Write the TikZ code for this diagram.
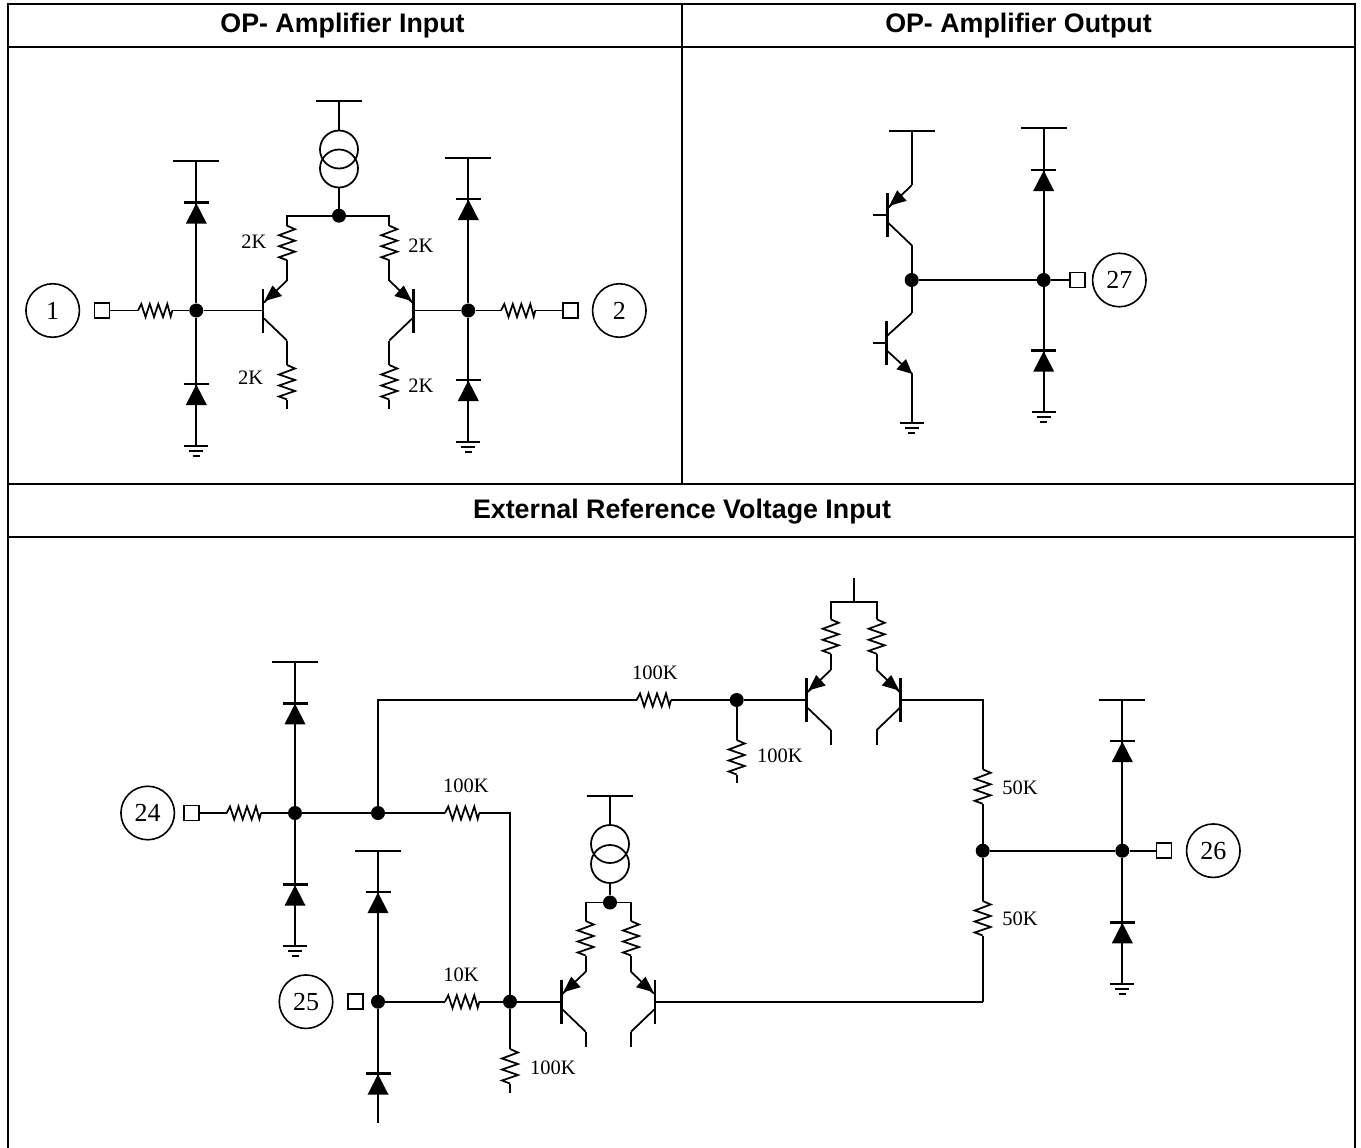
\documentclass[tikz,border=0pt]{standalone}
\usepackage{fontspec}
\setmainfont{Liberation Serif}
\newfontfamily\headfont{Liberation Sans}
\tikzset{
  wire/.style={line width=1.75pt,line cap=butt,line join=miter},
  gridline/.style={line width=2.2pt},
  heavybar/.style={line width=2.8pt},
  dot/.style={circle,fill=black,draw=none,minimum size=14pt,inner sep=0pt},
  term/.style={rectangle,draw,line width=1.6pt,fill=white,minimum size=15pt,inner sep=0pt},
  pin/.style={circle,draw,line width=1.6pt,minimum size=53.5pt,inner sep=0pt,font=\fontsize{26}{30}\selectfont},
  val/.style={inner sep=0pt,font=\fontsize{20.5}{24}\selectfont},
  head/.style={inner sep=0pt,font=\headfont\bfseries\fontsize{26.8}{30}\selectfont},
  ring/.style={circle,draw,line width=1.75pt,minimum size=38pt,inner sep=0pt},
  rail/.pic={\draw[wire] (-23,0) -- (23,0); \coordinate (-c) at (0,0);},
  gnd/.pic={\draw[wire] (-12,0) -- (12,0) (-7,5) -- (7,5); \draw[wire,line width=2pt] (-3.5,10) -- (3.5,10); \coordinate (-c) at (0,0);},
  diodeup/.pic={
    \draw[line width=2.2pt] (0,-6) -- (0,0);
    \draw[heavybar] (-12.5,0) -- (12.5,0);
    \fill (0,0.5) -- (10.5,21) -- (-10.5,21) -- cycle;
  },
  hres/.pic={
    \draw[wire,line join=miter] (0,0) -- (3.3,-6.5) -- (7.5,6.5) -- (11.8,-6.5) -- (16,6.5) -- (20.3,-6.5) -- (25,6.5) -- (29.3,-6.5) -- (32.7,6) -- (34.3,0);
    \coordinate (-a) at (0,0); \coordinate (-b) at (34.3,0);
  },
  vres/.pic={
    \draw[wire,line join=miter] (0,0) -- (8,3.5) -- (-8,9.5) -- (8,15) -- (-8,20.5) -- (8,26) -- (-8,31.5) -- (0,34.5);
    \coordinate (-a) at (0,0); \coordinate (-b) at (0,34.5);
  },
  pnpq/.pic={
    \draw[heavybar] (0,-22) -- (0,22);
    \draw[wire] (1,-8) -- (24,-30) (1,8) -- (24,30);
    \fill (1.5,-9.5) -- (9.5,-25) -- (19,-14.5) -- cycle;
    \coordinate (-b) at (0,0); \coordinate (-e) at (24,-30); \coordinate (-c) at (24,30);
  },
  npnq/.pic={
    \draw[heavybar] (0,-22) -- (0,22);
    \draw[wire] (1,8) -- (25,30) (1,-8) -- (25,-30);
    \fill (25.5,30.5) -- (19.3,15.7) -- (9.6,26) -- cycle;
    \coordinate (-b) at (0,0); \coordinate (-e) at (25,30); \coordinate (-c) at (25,-30);
  },
}
\begin{document}
\begin{tikzpicture}[x=1pt,y=-1pt]
\useasboundingbox (0,0) rectangle (1361,1148);
\fill[white] (0,0) rectangle (1361,1148);
% table
\draw[gridline] (7.7,1148) -- (7.7,4) -- (1355,4) -- (1355,1148);
\draw[gridline] (7.7,47) -- (1355,47) (7.7,484) -- (1355,484) (7.7,536.7) -- (1355,536.7);
\draw[gridline] (682,4) -- (682,484);
\node[head] (h1) at (342.5,26) {OP- Amplifier Input};
\node[head] (h2) at (1018.5,26) {OP- Amplifier Output};
\node[head] (h3) at (682,511.5) {External Reference Voltage Input};

% ---------- OP input ----------
\node[pin] (p1) at (52.7,310.5) {1};
\node[term] (t1) at (102,310.5) {};
\pic (r1) at (138,310.5) {hres};
\node[dot] (j1) at (196.3,310.5) {};
\pic (ra) at (196.3,161) {rail};
\pic at (196.3,202.7) {diodeup};
\pic at (196.3,384) {diodeup};
\pic (ga) at (196.3,445.7) {gnd};
\draw[wire] (t1) -- (r1-a) (r1-b) -- (j1);
\draw[wire] (ra-c) -- (j1) -- (ga-c);
\pic (q1) at (263,310.5) {pnpq};
\draw[wire] (j1) -- (q1-b);
\node[dot] (j0) at (339,215.7) {};
\pic (rs) at (339,100.7) {rail};
\node[ring] (s1) at (339,149.5) {};
\node[ring] (s2) at (339,168.5) {};
\draw[wire] (rs-c) -- (s1.north) (s2.south) -- (j0);
\pic (r2) at (287,225.7) {vres};
\pic (r3) at (287,365) {vres};
\coordinate (e3) at (287,409);
\draw[wire] (j0) -| (r2-a) (r2-b) -- (q1-e) (q1-c) -- (r3-a) (r3-b) -- (e3);
\pic[xscale=-1] (q2) at (413.3,310.5) {pnpq};
\pic (r4) at (389.3,225.7) {vres};
\pic (r5) at (389.3,365) {vres};
\coordinate (e5) at (389.3,409);
\draw[wire] (j0) -| (r4-a) (r4-b) -- (q2-e) (q2-c) -- (r5-a) (r5-b) -- (e5);
\node[dot] (j2) at (468.3,310.5) {};
\pic (rb) at (468.3,157.7) {rail};
\pic at (468.3,199) {diodeup};
\pic at (468.3,380) {diodeup};
\pic (gb) at (468.3,441.7) {gnd};
\draw[wire] (rb-c) -- (j2) -- (gb-c);
\draw[wire] (q2-b) -- (j2);
\pic (r6) at (501,310.5) {hres};
\node[term] (t2) at (570.7,310.5) {};
\node[pin] (p2) at (619.3,310.5) {2};
\draw[wire] (j2) -- (r6-a) (r6-b) -- (t2);
\node[val] at (254,242) {2K};
\node[val] at (250.7,378) {2K};
\node[val] at (421,246) {2K};
\node[val] at (421,386) {2K};

% ---------- OP output ----------
\pic (rc) at (911.7,131) {rail};
\pic (q3) at (887.7,215.3) {pnpq};
\coordinate (s3) at (873,215.3);
\draw[wire] (s3) -- (q3-b);
\node[dot] (j3) at (911.7,280) {};
\pic (q4) at (886.7,343.3) {npnq};
\coordinate (s4) at (873,343.3);
\draw[wire] (s4) -- (q4-b);
\pic (gc) at (911.7,423.3) {gnd};
\draw[wire] (rc-c) -- (q3-e) (q3-c) -- (j3) -- (q4-c) (q4-e) -- (gc-c);
\node[dot] (j4) at (1043.7,280) {};
\pic (rd) at (1043.7,128.3) {rail};
\pic at (1043.7,170) {diodeup};
\pic at (1043.7,350.7) {diodeup};
\pic (gd) at (1043.7,412.3) {gnd};
\draw[wire] (rd-c) -- (j4) -- (gd-c);
\node[term] (t3) at (1077.7,280) {};
\node[pin] (p3) at (1119.3,280) {27};
\draw[wire] (j3) -- (j4) -- (t3);

% ---------- External reference ----------
\node[pin] (p4) at (147.7,813) {24};
\node[term] (t4) at (191.3,813) {};
\pic (r7) at (226.7,813) {hres};
\node[dot] (j5) at (295,813) {};
\pic (re) at (295,661.7) {rail};
\pic at (295,703.3) {diodeup};
\pic at (295,884.7) {diodeup};
\pic (ge) at (295,945.7) {gnd};
\draw[wire] (re-c) -- (j5) -- (ge-c);
\node[dot] (j6) at (378,813) {};
\pic (r8) at (445,813) {hres};
\node[dot] (j7) at (510,1001.7) {};
\draw[wire] (t4) -- (r7-a) (r7-b) -- (j5) -- (j6) -- (r8-a);
\draw[wire] (r8-b) -| (j7);
\pic (r9) at (636.7,700) {hres};
\node[dot] (j8) at (736.7,700) {};
\draw[wire] (j6) |- (r9-a);
\draw[wire] (r9-b) -- (j8);
\pic (r10) at (736.7,740) {vres};
\coordinate (e10) at (736.7,783);
\draw[wire] (j8) -- (r10-a) (r10-b) -- (e10);
\node[val] at (655,673) {100K};
\node[val] at (780,755.7) {100K};
\node[val] at (466,786) {100K};
\node[val] at (461,975) {10K};
\node[val] at (553,1068) {100K};
\node[val] at (1020,787.3) {50K};
\node[val] at (1020,918.3) {50K};
% upper pair
\pic (q5) at (806.7,700) {pnpq};
\pic[xscale=-1] (q6) at (900.7,700) {pnpq};
\draw[wire] (j8) -- (q5-b);
\coordinate (e5b) at (830.7,745);
\coordinate (e6b) at (876.7,745);
\draw[wire] (q5-c) -- (e5b) (q6-c) -- (e6b);
\pic (r11) at (830.7,619.3) {vres};
\pic (r12) at (876.7,619.3) {vres};
\coordinate (tp) at (854,601.7);
\coordinate (tq) at (854,578);
\draw[wire] (tq) -- (tp);
\draw[wire] (r11-a) |- (tp) -| (r12-a);
\draw[wire] (r11-b) -- (q5-e) (r12-b) -- (q6-e);
% right column
\node[dot] (j9) at (982.7,850.7) {};
\pic (r13) at (982.7,769.3) {vres};
\pic (r14) at (982.7,901) {vres};
\coordinate (c1) at (982.7,700);
\coordinate (c2) at (982.7,1001.7);
\draw[wire] (q6-b) -- (c1) -- (r13-a) (r13-b) -- (j9) -- (r14-a) (r14-b) -- (c2);
\node[dot] (j10) at (1122.3,850.7) {};
\pic (rf) at (1122.3,699.7) {rail};
\pic at (1122.3,741) {diodeup};
\pic at (1122.3,922.3) {diodeup};
\pic (gf) at (1122.3,983.7) {gnd};
\draw[wire] (rf-c) -- (j10) -- (gf-c);
\node[term] (t5) at (1164,850.7) {};
\node[pin] (p5) at (1213.3,850.7) {26};
\draw[wire] (j9) -- (j10) -- (t5);
% input 25
\node[pin] (p6) at (306,1001.7) {25};
\node[term] (t6) at (355.3,1001.7) {};
\node[dot] (j11) at (378,1001.7) {};
\pic (rg) at (378,851) {rail};
\pic at (378,892) {diodeup};
\pic at (378,1073.7) {diodeup};
\coordinate (eg) at (378,1122.7);
\draw[wire] (rg-c) -- (j11) -- (eg);
\pic (r15) at (445,1001.7) {hres};
\draw[wire] (j11) -- (r15-a) (r15-b) -- (j7);
\pic (r16) at (510,1049) {vres};
\coordinate (e16) at (510,1092.7);
\draw[wire] (j7) -- (r16-a) (r16-b) -- (e16);
% lower pair
\pic (q7) at (561.7,1001.7) {pnpq};
\pic[xscale=-1] (q8) at (655,1001.7) {pnpq};
\draw[wire] (j7) -- (q7-b);
\coordinate (e7b) at (585.7,1047.3);
\coordinate (e8b) at (631,1047.3);
\draw[wire] (q7-c) -- (e7b) (q8-c) -- (e8b);
\node[dot] (j12) at (610,902.5) {};
\pic (rh) at (610,795.7) {rail};
\node[ring] (s3a) at (610,844) {};
\node[ring] (s3b) at (610,864) {};
\draw[wire] (rh-c) -- (s3a.north) (s3b.south) -- (j12);
\pic (r17) at (585.7,921) {vres};
\pic (r18) at (631,921) {vres};
\draw[wire] (j12) -| (r17-a) (j12) -| (r18-a);
\draw[wire] (r17-b) -- (q7-e) (r18-b) -- (q8-e);
\draw[wire] (q8-b) -- (c2);
\end{tikzpicture}
\end{document}
